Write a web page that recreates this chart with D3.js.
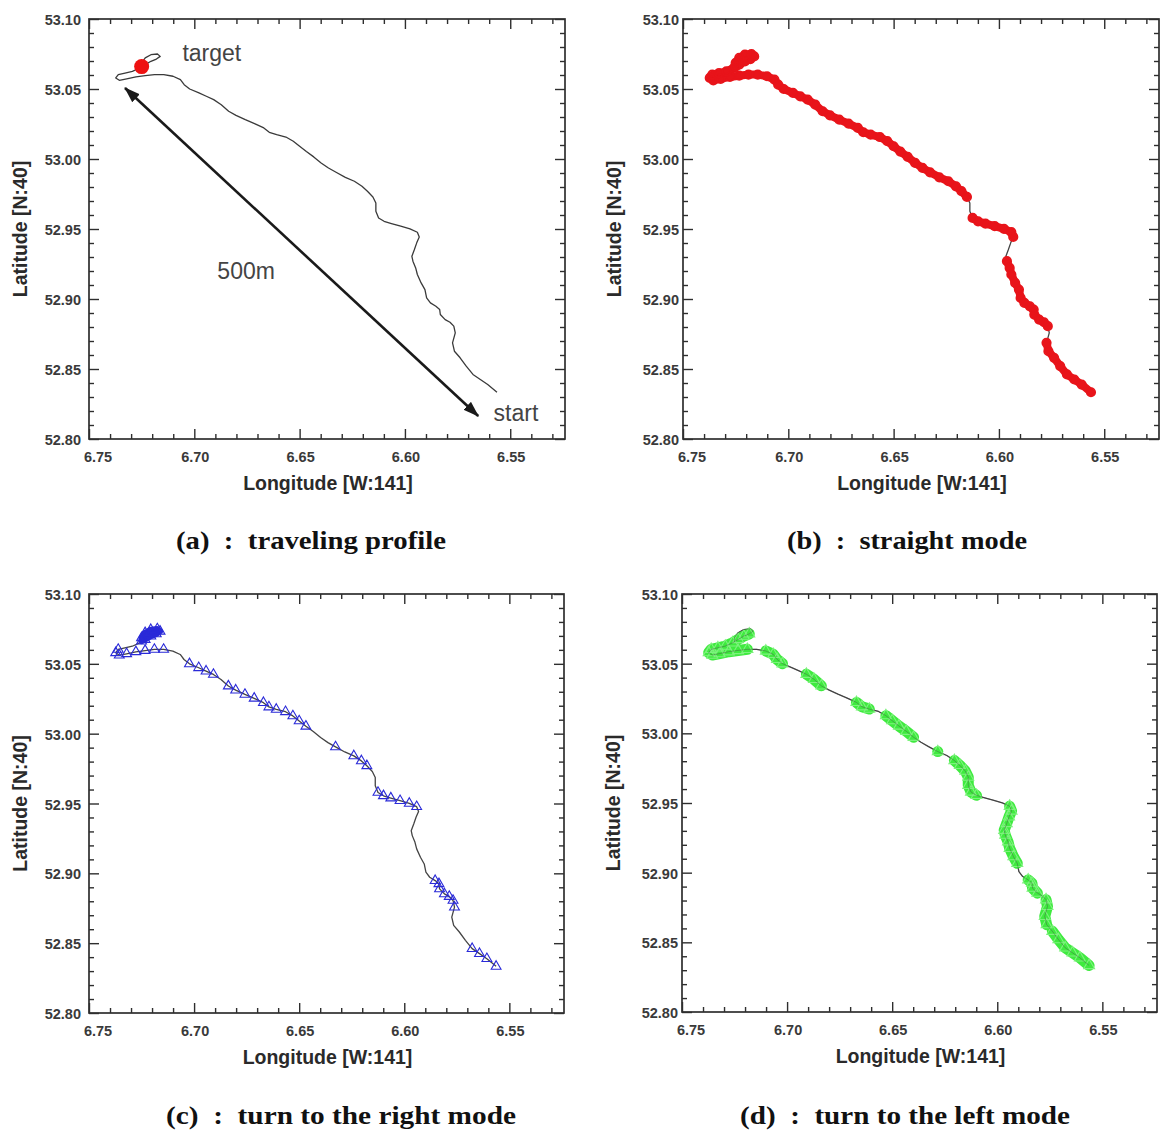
<!DOCTYPE html>
<html><head><meta charset="utf-8">
<script src="https://cdn.jsdelivr.net/npm/d3@7"></script>
<style>body{margin:0;background:#fff}</style>
</head><body>
<svg id="c" width="1162" height="1133" xmlns="http://www.w3.org/2000/svg"></svg>
<script>
// ---- axis tick data ----
const xTicks = [6.75, 6.70, 6.65, 6.60, 6.55];
const xTickLabels = ["6.75", "6.70", "6.65", "6.60", "6.55"];
const xMinor = [6.74,6.73,6.72,6.71,6.69,6.68,6.67,6.66,6.64,6.63,6.62,6.61,6.59,6.58,6.57,6.56,6.54,6.53];
const yTicks = [52.80, 52.85, 52.90, 52.95, 53.00, 53.05, 53.10];
const yTickLabels = ["52.80", "52.85", "52.90", "52.95", "53.00", "53.05", "53.10"];
const yMinor = [52.81,52.82,52.83,52.84,52.86,52.87,52.88,52.89,52.91,52.92,52.93,52.94,52.96,52.97,52.98,52.99,53.01,53.02,53.03,53.04,53.06,53.07,53.08,53.09];
const xDomain = [6.75, 6.524];
const yDomain = [52.80, 53.10];

// ---- track (start -> target) ----
const trackLon = [6.5563,6.5607,6.5642,6.5677,6.5709,6.5738,6.5765,6.5774,6.5761,6.5768,
  6.5786,6.5809,6.5832,6.5835,6.5853,6.5879,6.5897,6.5905,6.5923,6.5941,
  6.5949,6.5962,6.5967,6.5955,6.5944,6.5932,6.5941,6.5976,6.6020,6.6064,
  6.6099,6.6125,6.6138,6.6138,6.6152,6.6178,6.6204,6.6240,6.6283,6.6327,
  6.6363,6.6398,6.6433,6.6468,6.6500,6.6530,6.6565,6.6609,6.6644,6.6670,
  6.6714,6.6758,6.6802,6.6837,6.6872,6.6908,6.6943,6.6978,6.7022,6.7048,
  6.7066,6.7101,6.7145,6.7189,6.7233,6.7277,6.7321,6.7356,6.7373,6.7361,
  6.7329,6.7294,6.7259,6.7233,6.7206,6.7180,6.7162,6.7175,6.7206,6.7233,
  6.7250,6.7250];
const trackLat = [52.8334,52.8389,52.8425,52.8461,52.8520,52.8580,52.8627,52.8687,52.8758,52.8806,
  52.8834,52.8853,52.8889,52.8925,52.8948,52.8972,52.9008,52.9067,52.9115,52.9175,
  52.9222,52.9270,52.9305,52.9353,52.9401,52.9443,52.9477,52.9501,52.9520,52.9539,
  52.9555,52.9579,52.9627,52.9686,52.9729,52.9770,52.9805,52.9841,52.9869,52.9905,
  52.9936,52.9972,53.0015,53.0053,53.0091,53.0127,53.0157,53.0174,53.0191,53.0222,
  53.0253,53.0281,53.0312,53.0341,53.0388,53.0424,53.0448,53.0472,53.0500,53.0531,
  53.0567,53.0591,53.0603,53.0603,53.0595,53.0586,53.0572,53.0562,53.0579,53.0603,
  53.0614,53.0626,53.0650,53.0674,53.0698,53.0714,53.0733,53.0750,53.0745,53.0722,
  53.0686,53.0662];

// ---- mode segments (index ranges into the track) ----
const straightRanges = [[0,7],[9,21],[25,31],[34,81]];
const rightRanges = [[0,3],[8,14],[26,31],[35,37],[39,39],[43,47],[48,53],[55,58],[62,69],[73,81]];
const rightFilledRanges = [[73,81]];
const leftRanges = [[0,5],[6,9],[11,14],[17,26],[30,36],[38,38],[41,45],[47,49],[53,55],[58,61],[63,75]];

// ---- annotations for panel (a) ----
const targetPoint = {lon: 6.725, lat: 53.066};
const arrowEnds = [{lon: 6.7329, lat: 53.0507}, {lon: 6.5652, lat: 52.8164}];
const labelsA = [
  {text: "target", lon: 6.6917, lat: 53.0757},
  {text: "500m", lon: 6.6754, lat: 52.9200},
  {text: "start", lon: 6.5473, lat: 52.8189}
];

const panels = [
  {key:"a", l:89, r:565, t:19, b:439, gap:8, caption:"(a)\u2002:\u2002traveling profile", cx:311, cy:540, cw:270},
  {key:"b", l:683, r:1159, t:19, b:439, gap:4, caption:"(b)\u2002:\u2002straight mode", cx:907, cy:540, cw:240},
  {key:"c", l:89, r:564, t:594, b:1013, gap:8, caption:"(c)\u2002:\u2002turn to the right mode", cx:341, cy:1115, cw:350},
  {key:"d", l:682, r:1157, t:594, b:1012, gap:4, caption:"(d)\u2002:\u2002turn to the left mode", cx:905, cy:1115, cw:330}
];

const svg = d3.select("#c");
const defs = svg.append("defs");
defs.append("marker").attr("id","ah").attr("markerUnits","userSpaceOnUse")
  .attr("markerWidth",16).attr("markerHeight",12).attr("refX",15).attr("refY",6)
  .attr("orient","auto-start-reverse")
  .append("path").attr("d","M0,0.5 L16,6 L0,11.5 Z").attr("fill","#1a1a1a");

const INK = "#2e2e2e";
const track = trackLon.map((lon,i)=>({lon, lat: trackLat[i], i}));

function sub(ranges){ return ranges.map(([a,b]) => track.slice(a, b+1)); }

panels.forEach(p => {
  const g = svg.append("g");
  const x = d3.scaleLinear().domain(xDomain).range([p.l, p.r]);
  const y = d3.scaleLinear().domain(yDomain).range([p.b, p.t]);
  const line = d3.line().x(d=>x(d.lon)).y(d=>y(d.lat));

  // ticks
  const addAxis = (gen, scale, vals, size, tr) => {
    const a = g.append("g").attr("transform", tr)
      .call(gen(scale).tickValues(vals).tickSize(size).tickFormat(""));
    a.select(".domain").remove();
    a.selectAll(".tick line").attr("stroke", INK).attr("stroke-width", 1.4);
  };
  addAxis(d3.axisBottom, x, xTicks, -10, `translate(0,${p.b})`);
  addAxis(d3.axisBottom, x, xMinor, -5, `translate(0,${p.b})`);
  addAxis(d3.axisTop, x, xTicks, -10, `translate(0,${p.t})`);
  addAxis(d3.axisTop, x, xMinor, -5, `translate(0,${p.t})`);
  addAxis(d3.axisLeft, y, yTicks, -10, `translate(${p.l},0)`);
  addAxis(d3.axisLeft, y, yMinor, -5, `translate(${p.l},0)`);
  addAxis(d3.axisRight, y, yTicks, -10, `translate(${p.r},0)`);
  addAxis(d3.axisRight, y, yMinor, -5, `translate(${p.r},0)`);

  g.append("rect").attr("x", p.l).attr("y", p.t).attr("width", p.r-p.l).attr("height", p.b-p.t)
    .attr("fill","none").attr("stroke", INK).attr("stroke-width", 1.7);

  // tick labels
  g.selectAll(".xl").data(xTicks).enter().append("text")
    .attr("x", (d,i)=> x(d) + (i===0 ? 9 : 1)).attr("y", p.b + 18)
    .attr("text-anchor","middle").attr("dominant-baseline","central")
    .attr("font-family","Liberation Sans, Arial, sans-serif").attr("font-weight","bold")
    .attr("font-size", 14.5).attr("fill", "#3a3a3a")
    .text((d,i)=>xTickLabels[i]);
  g.selectAll(".yl").data(yTicks).enter().append("text")
    .attr("x", p.l - p.gap).attr("y", d=>y(d) + 1)
    .attr("text-anchor","end").attr("dominant-baseline","central")
    .attr("font-family","Liberation Sans, Arial, sans-serif").attr("font-weight","bold")
    .attr("font-size", 14.5).attr("fill", "#3a3a3a")
    .text((d,i)=>yTickLabels[i]);

  // axis titles
  g.append("text").attr("x", (p.l+p.r)/2 + 1).attr("y", p.b + 44)
    .attr("text-anchor","middle").attr("dominant-baseline","central")
    .attr("font-family","Liberation Sans, Arial, sans-serif").attr("font-weight","bold")
    .attr("font-size", 19.5).attr("fill","#2a2a2a").text("Longitude [W:141]");
  g.append("text").attr("transform", `translate(${p.l-69},${(p.t+p.b)/2}) rotate(-90)`)
    .attr("text-anchor","middle").attr("dominant-baseline","central")
    .attr("font-family","Liberation Sans, Arial, sans-serif").attr("font-weight","bold")
    .attr("font-size", 19.5).attr("fill","#2a2a2a").text("Latitude [N:40]");

  // caption
  const cap = g.append("text").attr("x", p.cx).attr("y", p.cy)
    .attr("text-anchor","middle").attr("dominant-baseline","central")
    .attr("font-family","Liberation Serif, Times New Roman, serif")
    .attr("font-weight","bold").attr("font-size", 26).attr("fill","#111")
    .text(p.caption);
  const nat = cap.node().getComputedTextLength();
  if (Math.abs(nat - p.cw) > 4) cap.attr("textLength", p.cw).attr("lengthAdjust","spacingAndGlyphs");

  // thin track
  const trackColor = p.key === "a" ? "#3a3a3a" : "#444";
  g.append("path").datum(track).attr("d", line).attr("fill","none")
    .attr("stroke", trackColor).attr("stroke-width", 1.3).attr("stroke-linejoin","round");

  if (p.key === "a") {
    g.append("circle").attr("cx", x(targetPoint.lon)).attr("cy", y(targetPoint.lat)).attr("r", 7.5)
      .attr("fill","#ee1111");
    g.append("line").attr("x1", x(arrowEnds[0].lon)).attr("y1", y(arrowEnds[0].lat))
      .attr("x2", x(arrowEnds[1].lon)).attr("y2", y(arrowEnds[1].lat))
      .attr("stroke","#1a1a1a").attr("stroke-width", 2.6)
      .attr("marker-start","url(#ah)").attr("marker-end","url(#ah)");
    g.selectAll(".ann").data(labelsA).enter().append("text")
      .attr("x", d=>x(d.lon)).attr("y", d=>y(d.lat))
      .attr("text-anchor","middle").attr("dominant-baseline","central")
      .attr("font-family","Liberation Sans, Arial, sans-serif").attr("font-size", 23)
      .attr("fill","#444").text(d=>d.text);
  }
  if (p.key === "b") {
    const segs = sub(straightRanges);
    segs.forEach(s => {
      g.append("path").datum(s).attr("d", line).attr("fill","none")
        .attr("stroke","#e8141a").attr("stroke-width", 8).attr("stroke-linecap","round")
        .attr("stroke-linejoin","round");
      g.selectAll(null).data(s).enter().append("circle")
        .attr("cx", d=>x(d.lon)).attr("cy", d=>y(d.lat)).attr("r", 4.2)
        .attr("fill","none").attr("stroke","#e8141a").attr("stroke-width", 1.8);
    });
  }
  if (p.key === "c") {
    const tri = d3.symbol().type(d3.symbolTriangle).size(42);
    sub(rightFilledRanges).forEach(s => {
      g.append("path").datum(s).attr("d", line).attr("fill","none")
        .attr("stroke","#2a2ad8").attr("stroke-width", 6).attr("stroke-linejoin","round")
        .attr("stroke-linecap","round");
    });
    sub(rightRanges).forEach(s => {
      g.selectAll(null).data(s).enter().append("path").attr("d", tri)
        .attr("transform", d=>`translate(${x(d.lon)},${y(d.lat)})`)
        .attr("fill","none").attr("stroke","#2a2ad8").attr("stroke-width", 1.1);
    });
  }
  if (p.key === "d") {
    const tri = d3.symbol().type(d3.symbolTriangle).size(52);
    sub(leftRanges).forEach(s => {
      g.append("path").datum(s).attr("d", line).attr("fill","none")
        .attr("stroke","#3fea3f").attr("stroke-width", 11).attr("stroke-linecap","round")
        .attr("stroke-linejoin","round");
      g.selectAll(null).data(s).enter().append("path").attr("d", tri)
        .attr("transform", d=>`translate(${x(d.lon)},${y(d.lat)})`)
        .attr("fill","none").attr("stroke","#7df27d").attr("stroke-width", 1.1);
    });
    g.append("path").datum(track).attr("d", line).attr("fill","none")
      .attr("stroke","#444").attr("stroke-width", 0.8).attr("opacity",0.5);
  }
});
</script>
</body></html>
